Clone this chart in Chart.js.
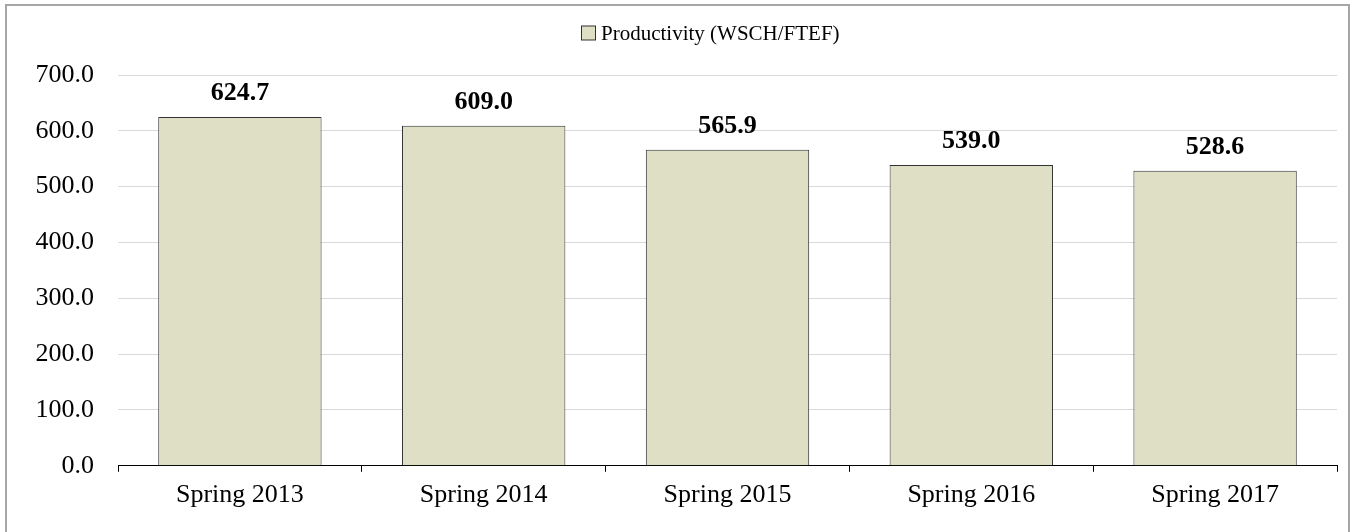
<!DOCTYPE html>
<html>
<head>
<meta charset="utf-8">
<title>Productivity (WSCH/FTEF)</title>
<script src="https://cdn.jsdelivr.net/npm/chart.js"></script>
<style>
  html, body { margin: 0; padding: 0; background: #fff; }
  #wrap { position: relative; width: 1356px; height: 532px; overflow: hidden; }
  #frame { position: absolute; left: 5px; top: 4px; width: 1345px; height: 560px; border: 2px solid #a6a6a6; box-sizing: border-box; }
  #chart { position: absolute; left: 0; top: 0; }
</style>
</head>
<body>
<div id="wrap">
  <div id="frame"></div>
  <canvas id="chart" width="1356" height="532"></canvas>
</div>
<script>
// datos
const categories = ['Spring 2013', 'Spring 2014', 'Spring 2015', 'Spring 2016', 'Spring 2017']
const productivity = [624.7, 609.0, 565.9, 539.0, 528.6]
const seriesLabel = 'Productivity (WSCH/FTEF)'
const yTicks = [0, 100, 200, 300, 400, 500, 600, 700]

const serif = "'Liberation Serif', 'Times New Roman', serif"
const barFill = '#dfdfc6'
const barEdge = '#333333'

// etiquetas de valor encima de cada barra
const valueLabels = {
  id: 'valueLabels',
  afterDatasetsDraw (chart) {
    const ctx = chart.ctx
    const meta = chart.getDatasetMeta(0)
    ctx.save()
    ctx.font = 'bold 26px ' + serif
    ctx.fillStyle = '#000'
    ctx.textAlign = 'center'
    ctx.textBaseline = 'alphabetic'
    meta.data.forEach((bar, i) => {
      ctx.fillText(productivity[i].toFixed(1), bar.x, bar.y - 17)
    })
    ctx.restore()
  }
}

// leyenda dibujada a mano (en el original no está centrada en el lienzo)
const topLegend = {
  id: 'topLegend',
  afterDraw (chart) {
    const ctx = chart.ctx
    const area = chart.chartArea
    ctx.save()
    ctx.font = '21px ' + serif
    const textW = ctx.measureText(seriesLabel).width
    const box = 15
    const gap = 5
    const total = box + gap + textW
    const cx = (area.left + area.right) / 2 - 17
    const x0 = Math.round(cx - total / 2)
    const yMid = 33
    ctx.fillStyle = barFill
    ctx.strokeStyle = barEdge
    ctx.lineWidth = 1
    ctx.fillRect(x0 + 0.5, yMid - box / 2 + 0.5, box - 1, box - 1)
    ctx.strokeRect(x0 + 0.5, yMid - box / 2 + 0.5, box - 1, box - 1)
    ctx.fillStyle = '#000'
    ctx.textAlign = 'left'
    ctx.textBaseline = 'middle'
    ctx.fillText(seriesLabel, x0 + box + gap, yMid + 1)
    ctx.restore()
  }
}

const ctx = document.getElementById('chart').getContext('2d')
const myChart = new Chart(ctx, {
  type: 'bar',
  data: {
    labels: categories,
    datasets: [{
      label: seriesLabel,
      data: productivity,
      backgroundColor: barFill,
      borderColor: barEdge,
      borderWidth: 1,
      categoryPercentage: 1,
      barPercentage: 0.67
    }]
  },
  options: {
    responsive: false,
    animation: false,
    layout: { padding: { top: 75, right: 19, bottom: 13, left: 0 } },
    plugins: {
      tooltip: { enabled: false },
      legend: { display: false }
    },
    scales: {
      x: {
        grid: {
          offset: true,
          drawOnChartArea: false,
          drawTicks: true,
          tickLength: 6,
          color: '#000'
        },
        border: { display: true, color: '#000', width: 1 },
        ticks: {
          font: { family: serif, size: 26 },
          color: '#000',
          padding: 8,
          maxRotation: 0
        }
      },
      y: {
        min: 0,
        max: 700,
        afterFit (scale) { scale.width = 118 },
        afterBuildTicks (scale) { scale.ticks = yTicks.map(v => ({ value: v })) },
        grid: { color: '#d9d9d9', drawTicks: false },
        border: { display: false },
        ticks: {
          font: { family: serif, size: 26 },
          color: '#000',
          padding: 24,
          callback: v => Number(v).toFixed(1)
        }
      }
    }
  },
  plugins: [valueLabels, topLegend]
})
</script>
</body>
</html>
